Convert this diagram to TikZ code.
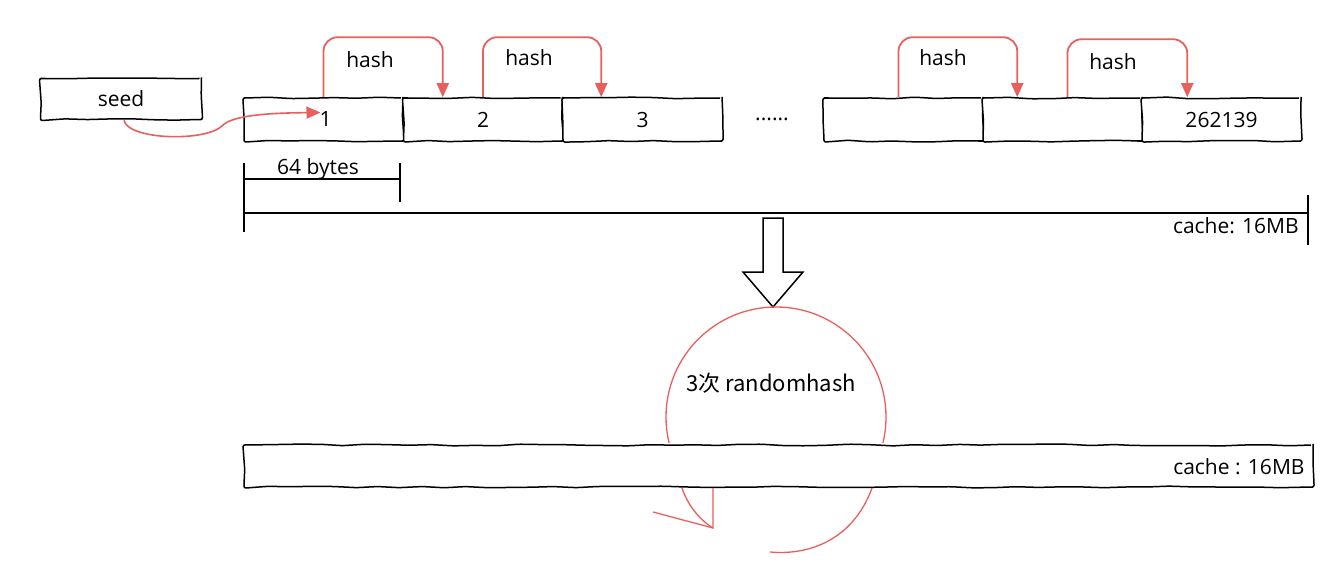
\documentclass[tikz,border=0pt]{standalone}
\usepackage{fontspec}
\setmainfont{Open Sans}
\newfontfamily\cjk{Noto Sans CJK SC}
\usetikzlibrary{arrows.meta,decorations.pathmorphing}
\definecolor{hred}{HTML}{E8605E}
\begin{document}
\begin{tikzpicture}[x=1pt,y=-1pt,
  sketch/.style={draw=black, line width=1.5pt, fill=white, inner sep=0pt,
    decorate, decoration={random steps, segment length=22pt, amplitude=0.9pt},
    rounded corners=2pt},
  cell/.style={sketch, minimum width=159pt, minimum height=43pt, font=\fontsize{21}{24}\selectfont},
  lbl/.style={font=\fontsize{21}{24}\selectfont, inner sep=1pt},
  harrow/.style={draw=hred, line width=1.8pt, rounded corners=14pt, -{Triangle[length=14pt,width=12pt]}},
  rline/.style={draw=hred, line width=1.3pt},
  bline/.style={draw=black, line width=1.5pt}]
\useasboundingbox (0,0) rectangle (1340,567);
\pgfmathsetseed{11}
% seed
\node[sketch, minimum width=161pt, minimum height=41pt, font=\fontsize{21}{24}\selectfont] (seed) at (121,99) {\raisebox{-1pt}{seed}};
% cells
\node[cell] (c1) at (323.5,119.5) {\hspace*{4pt}\raisebox{-4pt}{1}};
\node[cell] (c2) at (483,119.5) {\raisebox{-3pt}{2}};
\node[cell] (c3) at (642.5,119.5) {\raisebox{-3pt}{3}};
\node[lbl] (dots) at (772,119) {......};
\node[cell] (c4) at (903.5,119.5) {};
\node[cell] (c5) at (1062.5,119.5) {};
\node[cell] (c6) at (1221.5,119.5) {\raisebox{-1pt}{262139}};
% hash arrows
\draw[harrow] (c1.north) -- ++(0,-60) -| ([xshift=40pt]c2.north west);
\draw[harrow] (c2.north) -- ++(0,-60) -| ([xshift=39pt]c3.north west);
\draw[harrow] ([xshift=-5pt]c4.north) -- ++(0,-60) -| ([xshift=35pt]c5.north west);
\draw[harrow] ([xshift=5pt]c5.north) -- ++(0,-58) -| ([xshift=46pt]c6.north west);
\node[lbl] (h1) at (370,60) {hash};
\node[lbl] (h2) at (529,58) {hash};
\node[lbl] (h3) at (943,58) {hash};
\node[lbl] (h4) at (1113,62) {hash};
% seed arrow
\coordinate (tip1) at ([xshift=-3pt,yshift=7pt]c1.center);
\draw[draw=hred, line width=1.6pt, -{Triangle[length=14pt,width=12pt]}]
  ([xshift=3pt]seed.south) .. controls (128,140) and (205,142) .. (222,126)
  .. controls (232,115) and (270,113) .. (tip1);
% 64 bytes
\coordinate (b0) at (244,163);
\coordinate (b1) at (244,232);
\coordinate (b2) at (400,163);
\coordinate (b3) at (400,202);
\draw[bline] (b0) -- (b1);
\draw[bline] (b2) -- (b3);
\draw[bline] (244,179) -- (400,179);
\node[lbl] (bytes) at (318,169) {64 bytes};
% cache line
\coordinate (cl) at (244,213);
\coordinate (cr) at (1308,213);
\draw[bline] (cl) -- (cr);
\draw[bline] (1308,195) -- (1308,245);
\node[lbl, anchor=east] (cache1) at (1300,226) {cache: 16MB};
% big down arrow
\draw[draw=black, line width=1.5pt, fill=white]
  (763,218) -- (783,218) -- (783,272) -- (803,272) -- (773,307) -- (743,272) -- (763,272) -- cycle;
% circle
\begin{scope}
\clip (0,0) rectangle (1340,442);
\draw[rline] (776,417) circle[radius=110];
\end{scope}
\node[font=\cjk\fontsize{22}{25}\selectfont, inner sep=1pt] (rh) at (771,383) {3次 randomhash};
% bottom bar
\node[sketch, minimum width=1069pt, minimum height=42pt] (bar) at (778.5,466) {};
\node[lbl, anchor=east] (cache2) at ([xshift=-8pt,yshift=-1pt]bar.east) {cache : 16MB};
% lower loop
\draw[rline] (872,488) .. controls (855,535) and (815,556) .. (770,552);
\draw[rline] (682,488) .. controls (688,506) and (700,520) .. (713,528);
\draw[rline] (653,512) -- (713,528) -- (713,488);
\end{tikzpicture}
\end{document}
